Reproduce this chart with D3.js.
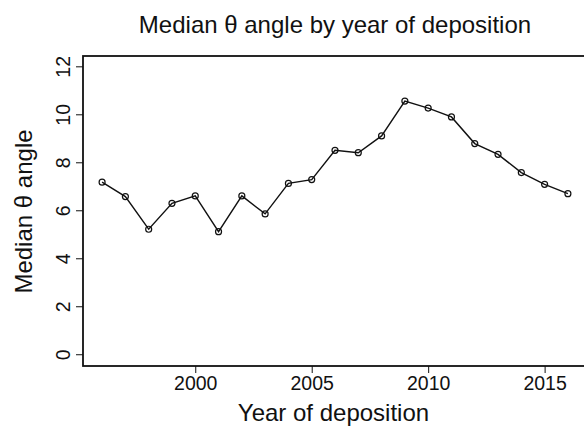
<!DOCTYPE html>
<html><head><meta charset="utf-8">
<script src="https://cdn.jsdelivr.net/npm/d3@7"></script>
<style>body{margin:0;background:#fff;}svg{display:block;font-family:"Liberation Sans",Arial,sans-serif;}</style>
</head><body>
<svg id="c" width="584" height="428"></svg>
<script>
const years = [1996,1997,1998,1999,2000,2001,2002,2003,2004,2005,2006,2007,2008,2009,2010,2011,2012,2013,2014,2015,2016];
const medianTheta = [7.17,6.57,5.21,6.29,6.60,5.11,6.60,5.85,7.12,7.28,8.50,8.40,9.10,10.55,10.26,9.89,8.78,8.33,7.57,7.08,6.69];
const xTicks = [2000,2005,2010,2015];
const yTicks = [0,2,4,6,8,10,12];
const titleText = "Median \u03b8 angle by year of deposition";
const xTitle = "Year of deposition";
const yTitle = "Median \u03b8 angle";

const svg = d3.select("#c");
const L = 83, R = 587, T = 56, B = 366;
const x = d3.scaleLinear().domain([1995.18, 2016.82]).range([L, R]);
const y = d3.scaleLinear().domain([-0.49, 12.43]).range([B, T]);

svg.append("rect").attr("width",584).attr("height",428).attr("fill","#fff");

// box
svg.append("rect").attr("x",L).attr("y",T).attr("width",R-L).attr("height",B-T)
  .attr("fill","none").attr("stroke","#111").attr("stroke-width",1.8);

// x axis
const xa = svg.append("g").attr("transform",`translate(0,${B})`)
  .call(d3.axisBottom(x).tickValues(xTicks).tickFormat(d3.format("d")).tickSize(7).tickPadding(3));
xa.select(".domain").remove();
xa.selectAll("line").attr("stroke","#111").attr("stroke-width",1);
xa.selectAll("text").attr("font-size",19.5).attr("fill","#111").attr("font-family","Liberation Sans, Arial, sans-serif");

// y axis
const ya = svg.append("g").attr("transform",`translate(${L},0)`)
  .call(d3.axisLeft(y).tickValues(yTicks).tickSize(7).tickPadding(0));
ya.select(".domain").remove();
ya.selectAll("line").attr("stroke","#111").attr("stroke-width",1);
ya.selectAll("text").attr("font-size",19.5).attr("fill","#111").attr("font-family","Liberation Sans, Arial, sans-serif")
  .attr("x",null).attr("dy",null).attr("text-anchor","middle")
  .attr("transform","translate(-13,0) rotate(-90)");

// line
const line = d3.line().x((d,i)=>x(years[i])).y(d=>y(d));
svg.append("path").datum(medianTheta).attr("d",line)
  .attr("fill","none").attr("stroke","#111").attr("stroke-width",1.4);
svg.selectAll("circle.m").data(medianTheta).enter().append("circle")
  .attr("class","m").attr("cx",(d,i)=>x(years[i])).attr("cy",d=>y(d)).attr("r",3)
  .attr("fill","none").attr("stroke","#111").attr("stroke-width",1.2);

// titles
svg.append("text").attr("x",335).attr("y",32.5).attr("text-anchor","middle")
  .attr("font-size",24).attr("fill","#111").text(titleText);
svg.append("text").attr("x",333.5).attr("y",420.5).attr("text-anchor","middle")
  .attr("font-size",24).attr("fill","#111").text(xTitle);
svg.append("text").attr("transform","translate(32,211.5) rotate(-90)").attr("text-anchor","middle")
  .attr("font-size",24).attr("fill","#111").text(yTitle);
</script>
</body></html>
